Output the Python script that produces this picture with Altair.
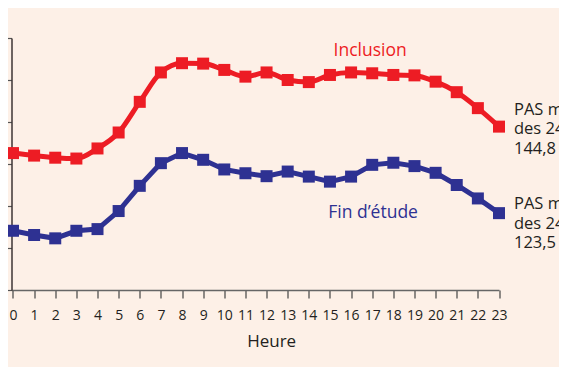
import altair as alt
import pandas as pd

# ---- data ----
hours = list(range(24))
inclusion = [132.6, 132.0, 131.5, 131.3, 133.7, 137.5, 144.8, 151.8, 154.0, 153.9,
             152.4, 150.8, 151.8, 150.0, 149.5, 151.2, 151.8, 151.6, 151.2, 151.1,
             149.6, 147.1, 143.3, 138.9]
fin_etude = [114.1, 113.1, 112.3, 114.1, 114.5, 118.8, 124.8, 130.2, 132.6, 131.0,
             128.7, 127.8, 127.1, 128.2, 127.0, 125.8, 127.0, 129.8, 130.3, 129.5,
             127.9, 125.0, 121.8, 118.3]
series_names = ["Inclusion", "Fin d’étude"]
series_colors = ["#ed1c24", "#2e3192"]
y_ticks = [100, 110, 120, 130, 140, 150, 160]
x_title = "Heure"
note_lines = [["PAS moyenne", "des 24 h :", "144,8 mmHg"],
              ["PAS moyenne", "des 24 h :", "123,5 mmHg"]]
note_first_values = [141.67, 119.2]

BG = "#fdf0e7"
FONT = "Open Sans"

xs = alt.Scale(domain=[-0.07, 23], nice=False, zero=False)
ys = alt.Scale(domain=[100, 160], nice=False, zero=False)

df = pd.DataFrame({
    "hour": hours * 2,
    "value": inclusion + fin_etude,
    "series": [series_names[0]] * 24 + [series_names[1]] * 24,
})

color = alt.Color("series:N", scale=alt.Scale(domain=series_names, range=series_colors), legend=None)
X = alt.X("hour:Q", scale=xs,
          axis=alt.Axis(values=hours, title=None, grid=False, tickSize=8, tickWidth=1.2,
                        tickColor="#444444", domainColor="#666666", domainWidth=1.5,
                        labelFont=FONT, labelFontSize=14, labelColor="#231f20",
                        labelBaseline="alphabetic", labelPadding=21, labelFlush=False,
                        labelOverlap=False, labelBound=False))
Y = alt.Y("value:Q", scale=ys,
          axis=alt.Axis(values=y_ticks, labels=False, title=None, grid=False, tickSize=8,
                        tickWidth=1.2, tickColor="#555555", domainColor="#3d3535",
                        domainWidth=1.5))

layers = []
for name, interp in zip(series_names, ["monotone", "linear"]):
    sub = alt.Chart(df).transform_filter(alt.datum.series == name)
    layers.append(sub.mark_line(strokeWidth=5, interpolate=interp).encode(x=X, y=Y, color=color))
    layers.append(sub.mark_point(shape="square", filled=True, size=144, opacity=1).encode(
        x=X, y=Y, color=color))

labels = pd.DataFrame({
    "text": series_names,
    "hour": [16.9, 17.04],
    "value": [155.7, 117.2],
    "series": series_names,
})
lab = alt.Chart(labels).mark_text(font=FONT, fontSize=17.5, align="center",
                                   baseline="alphabetic").encode(
    x=X, y=Y, text="text:N", color=color)

rows = []
for lines, v0 in zip(note_lines, note_first_values):
    for i, t in enumerate(lines):
        rows.append({"text": t, "hour": 23.71, "value": v0 - i * 19.5 / 4.2})
notes = pd.DataFrame(rows)
note = alt.Chart(notes).mark_text(font=FONT, fontSize=16.5, align="left", baseline="alphabetic",
                                  color="#231f20").encode(x=X, y=Y, text="text:N")

title_df = pd.DataFrame({"text": [x_title], "hour": [12.24], "value": [86.5]})
ttl = alt.Chart(title_df).mark_text(font=FONT, fontSize=17, align="center",
                                    baseline="alphabetic", color="#231f20").encode(
    x=X, y=Y, text="text:N")

chart = alt.layer(*layers, lab, note, ttl).properties(
    width=487.5, height=252,
    autosize=alt.AutoSizeParams(type="none"),
    padding={"left": 3.5, "top": 30, "right": 60, "bottom": 77},
    background=BG,
).configure_view(stroke=None).configure_axis(labelOverlap=False)

chart.save("out.html", embed_options={"renderer": "svg", "actions": False})
